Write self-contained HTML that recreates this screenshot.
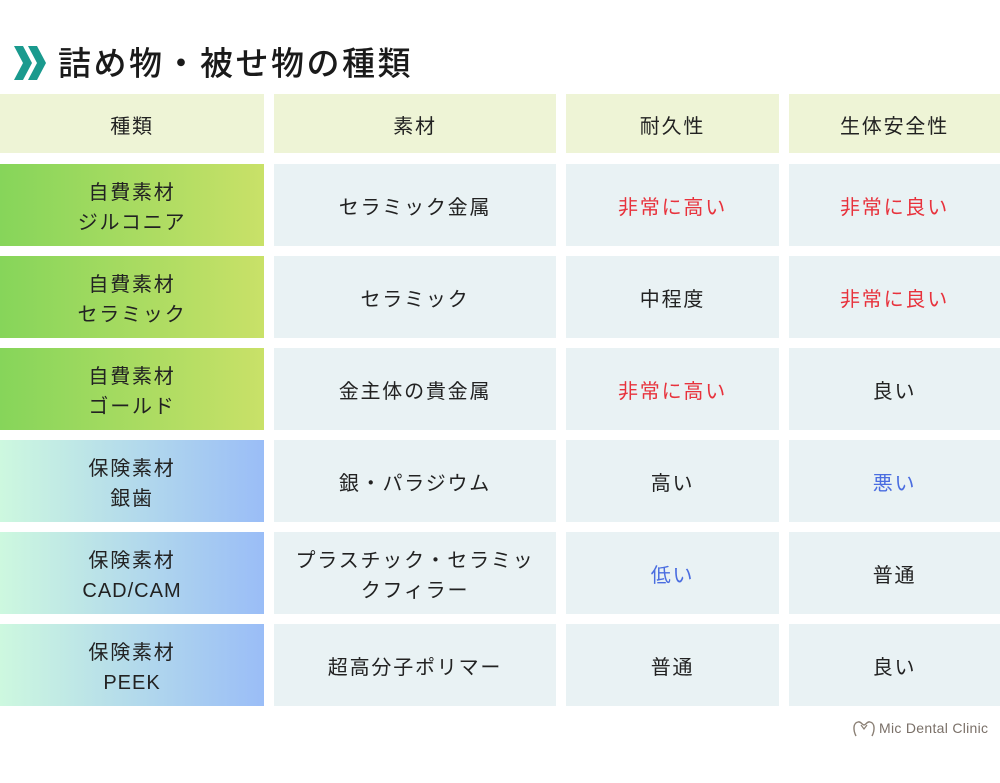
<!DOCTYPE html>
<html><head><meta charset="utf-8"><style>
body{margin:0;width:1000px;height:783px;background:#fff;position:relative;overflow:hidden;font-family:"Liberation Sans","Noto Sans CJK JP",sans-serif;color:#222}
.t{position:absolute;left:58px;top:42px;font-size:33px;line-height:44px;color:#1a1a1a;letter-spacing:2.5px;font-weight:500;white-space:nowrap}
.c{position:absolute;display:flex;align-items:center;justify-content:center;text-align:center;font-size:20px;line-height:30px;letter-spacing:1.8px;box-sizing:border-box;padding-top:6px}
.h{background:#eef4d6}
.g{background:linear-gradient(90deg,#86d55a,#c9e168)}
.b{background:linear-gradient(90deg,#cdf8df,#9abdf7)}
.w{background:#e9f2f4}
.r{color:#e8323c}.bl{color:#4a6de0}
.l{letter-spacing:1px}
</style></head><body>
<svg style="position:absolute;left:14px;top:46px" width="34" height="34" viewBox="0 0 34 34"><polygon points="0,0 9,0 18,17 9,34 0,34 9,17" fill="#1a9a8e"/><polygon points="14,0 23,0 32,17 23,34 14,34 23,17" fill="#1a9a8e"/></svg>
<div class="t">詰め物・被せ物の種類</div>
<div class="c h" style="left:0;top:94px;width:264px;height:59px">種類</div>
<div class="c h" style="left:274px;top:94px;width:282px;height:59px">素材</div>
<div class="c h" style="left:566px;top:94px;width:213px;height:59px">耐久性</div>
<div class="c h" style="left:789px;top:94px;width:211px;height:59px">生体安全性</div>

<div class="c g" style="left:0;top:164px;width:264px;height:82px">自費素材<br>ジルコニア</div>
<div class="c w" style="left:274px;top:164px;width:282px;height:82px">セラミック金属</div>
<div class="c w r" style="left:566px;top:164px;width:213px;height:82px">非常に高い</div>
<div class="c w r" style="left:789px;top:164px;width:211px;height:82px">非常に良い</div>

<div class="c g" style="left:0;top:256px;width:264px;height:82px">自費素材<br>セラミック</div>
<div class="c w" style="left:274px;top:256px;width:282px;height:82px">セラミック</div>
<div class="c w" style="left:566px;top:256px;width:213px;height:82px">中程度</div>
<div class="c w r" style="left:789px;top:256px;width:211px;height:82px">非常に良い</div>

<div class="c g" style="left:0;top:348px;width:264px;height:82px">自費素材<br>ゴールド</div>
<div class="c w" style="left:274px;top:348px;width:282px;height:82px">金主体の貴金属</div>
<div class="c w r" style="left:566px;top:348px;width:213px;height:82px">非常に高い</div>
<div class="c w" style="left:789px;top:348px;width:211px;height:82px">良い</div>

<div class="c b" style="left:0;top:440px;width:264px;height:82px">保険素材<br>銀歯</div>
<div class="c w" style="left:274px;top:440px;width:282px;height:82px">銀・パラジウム</div>
<div class="c w" style="left:566px;top:440px;width:213px;height:82px">高い</div>
<div class="c w bl" style="left:789px;top:440px;width:211px;height:82px">悪い</div>

<div class="c b" style="left:0;top:532px;width:264px;height:82px"><div>保険素材<br><span class="l">CAD/CAM</span></div></div>
<div class="c w" style="left:274px;top:532px;width:282px;height:82px">プラスチック・セラミッ<br>クフィラー</div>
<div class="c w bl" style="left:566px;top:532px;width:213px;height:82px">低い</div>
<div class="c w" style="left:789px;top:532px;width:211px;height:82px">普通</div>

<div class="c b" style="left:0;top:624px;width:264px;height:82px"><div>保険素材<br><span class="l">PEEK</span></div></div>
<div class="c w" style="left:274px;top:624px;width:282px;height:82px">超高分子ポリマー</div>
<div class="c w" style="left:566px;top:624px;width:213px;height:82px">普通</div>
<div class="c w" style="left:789px;top:624px;width:211px;height:82px">良い</div>

<svg style="position:absolute;left:852px;top:720px" width="24" height="18" viewBox="0 0 24 18"><path d="M4 16 C1 10 1 3 6 2 C9 1 10 5 12 5 C14 5 15 1 18 2 C23 3 23 10 20 16" fill="none" stroke="#8a7f74" stroke-width="1.4"/><path d="M9 5 L12 9 L15 5" fill="none" stroke="#8a7f74" stroke-width="1.2"/></svg>
<div style="position:absolute;left:879px;top:720px;font-size:14px;color:#7a7068;letter-spacing:0.3px;white-space:nowrap">Mic Dental Clinic</div>
</body></html>
